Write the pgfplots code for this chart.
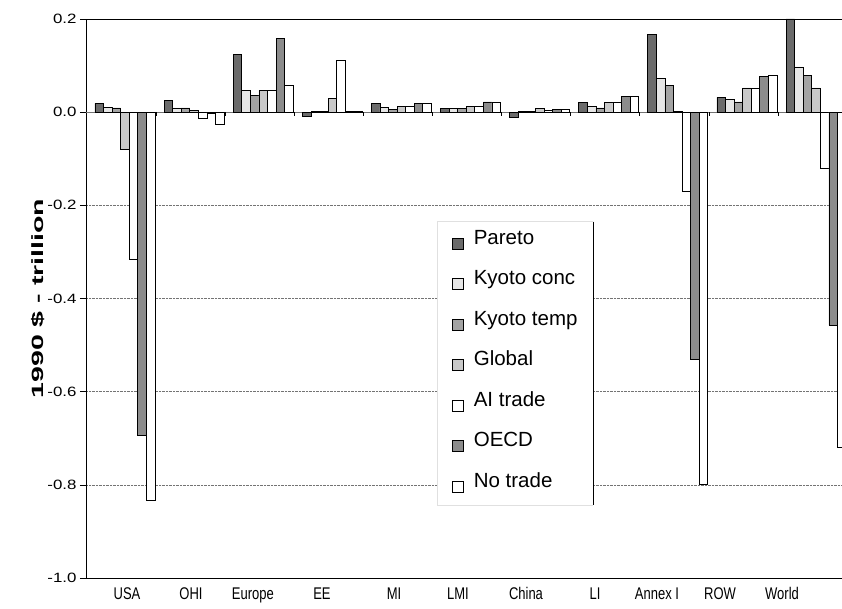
\documentclass[border=0pt]{standalone}
\usepackage{pgfplots}
\pgfplotsset{compat=1.18}
\usepackage{pgfplotstable}
\usepackage{fontspec}
\setmainfont{Liberation Sans}
\newfontfamily\ylabfont[FakeStretch=1.75]{Liberation Sans}
\newfontfamily\ytickfont[FakeStretch=1.25]{Liberation Sans}
\definecolor{cPar}{HTML}{6B6B6B}
\definecolor{cKc}{HTML}{E6E6E6}
\definecolor{cKt}{HTML}{A3A3A3}
\definecolor{cGl}{HTML}{C9C9C9}
\definecolor{cOE}{HTML}{8C8C8C}
\newcommand{\tl}[1]{\scalebox{1}[1.3]{#1}}
\pgfplotsset{
  my legend/.style={legend image code/.code={\draw[##1,line width=0.6pt,draw=black] (0pt,-9.7pt) rectangle (11pt,1.3pt);}},
  mybar/.style={ybar, bar width=0.124, draw=black, line width=0.7pt, fill=#1, my legend},
}
\pgfplotstableread{
x par kc kt gl ai oe nt
0  0.019 0.011 0.009 -0.080 -0.316 -0.694 -0.834
1  0.026 0.009 0.009 0.003 -0.014 -0.003 -0.026
2  0.124 0.047 0.036 0.047 0.047 0.159 0.057
3  -0.009 0.001 0.001 0.029 0.112 0.002 0.002
4  0.019 0.011 0.006 0.013 0.013 0.019 0.019
5  0.008 0.008 0.008 0.013 0.013 0.022 0.022
6  -0.012 0.001 0.001 0.008 0.003 0.006 0.006
7  0.021 0.013 0.009 0.020 0.020 0.033 0.033
8  0.166 0.072 0.057 0.001 -0.170 -0.530 -0.800
9  0.032 0.027 0.022 0.052 0.052 0.076 0.079
10 0.200 0.097 0.079 0.052 -0.120 -0.457 -0.720
}\data
\begin{document}
\begin{tikzpicture}
\begin{axis}[name=ax, scale only axis, width=756pt, height=559pt,
  xmin=-0.564, xmax=10.376, ymin=-1, ymax=0.2,
  axis x line*=bottom, axis y line*=left,
  axis line style={black, line width=0.8pt},
  ytick={-1,-0.8,-0.6,-0.4,-0.2,0,0.2},
  yticklabels={-1.0,-0.8,-0.6,-0.4,-0.2,0.0,0.2},
  xtick={0.029,0.955,1.852,2.851,3.893,4.819,5.803,6.802,7.699,8.611,9.508},
  xticklabels={\tl{USA},\tl{OHI},\tl{Europe},\tl{EE},\tl{MI},\tl{LMI},\tl{China},\tl{LI},\tl{Annex I},\tl{ROW},\tl{World}},
  xtick style={draw=none},
  ytick style={black, line width=0.6pt},
  major tick length=6pt, tick align=outside,
  yticklabel style={font=\ytickfont\fontsize{13.5}{15}\selectfont},
  xticklabel style={font=\fontsize{13}{15}\selectfont, yshift=0pt},
  ymajorgrids, grid style={densely dotted, black!55, line width=0.6pt},
  ylabel={\ylabfont\bfseries 1990 \$ - trillion},
  every axis y label/.style={at={(rel axis cs:0,0.5)}, xshift=-48pt, rotate=90, anchor=center, font=\fontsize{16.3}{18}\selectfont},
  legend style={at={(rel axis cs:0.4643,0.6243)}, anchor=north west, draw=none, fill=none,
    font=\fontsize{20.5}{24}\selectfont, row sep=20.5pt, inner xsep=15pt, inner ysep=0pt,
    nodes={inner sep=0pt, text height=15pt, text depth=5pt},
    /tikz/every odd column/.append style={column sep=10pt}},
  legend cell align=left,
]
\draw[black!55, line width=0.8pt] (axis cs:-0.564,0) -- (axis cs:10.376,0);
\addplot[mybar=cPar, bar shift=-0.372] table[x=x,y=par]{\data};
\addplot[mybar=cKc, bar shift=-0.248] table[x=x,y=kc]{\data};
\addplot[mybar=cKt, bar shift=-0.124] table[x=x,y=kt]{\data};
\addplot[mybar=cGl, bar shift=0] table[x=x,y=gl]{\data};
\addplot[mybar=white, bar shift=0.124] table[x=x,y=ai]{\data};
\addplot[mybar=cOE, bar shift=0.248] table[x=x,y=oe]{\data};
\addplot[mybar=white, bar shift=0.372] table[x=x,y=nt]{\data};
\legend{Pareto,Kyoto conc,Kyoto temp,Global,AI trade,OECD,No trade}
\pgfplotsinvokeforeach{0,...,9}{\draw[black, line width=0.6pt] (axis cs:#1.449,0) -- ++(0pt,-4pt);}
\fill[white] (axis cs:4.515,-0.235) rectangle (axis cs:6.773,-0.844);
\draw[black!12, line width=0.6pt] (axis cs:6.773,-0.235) -- (axis cs:4.515,-0.235) -- (axis cs:4.515,-0.844) -- (axis cs:6.773,-0.844);
\draw[black, line width=0.8pt] (axis cs:6.773,-0.235) -- (axis cs:6.773,-0.844);
\end{axis}
\draw[black, line width=0.8pt] (ax.north west) -- (ax.north east);
\pgfresetboundingbox
\path ([xshift=-86pt,yshift=-30pt]ax.south west) rectangle ([yshift=19pt]ax.north east);
\end{tikzpicture}
\end{document}
